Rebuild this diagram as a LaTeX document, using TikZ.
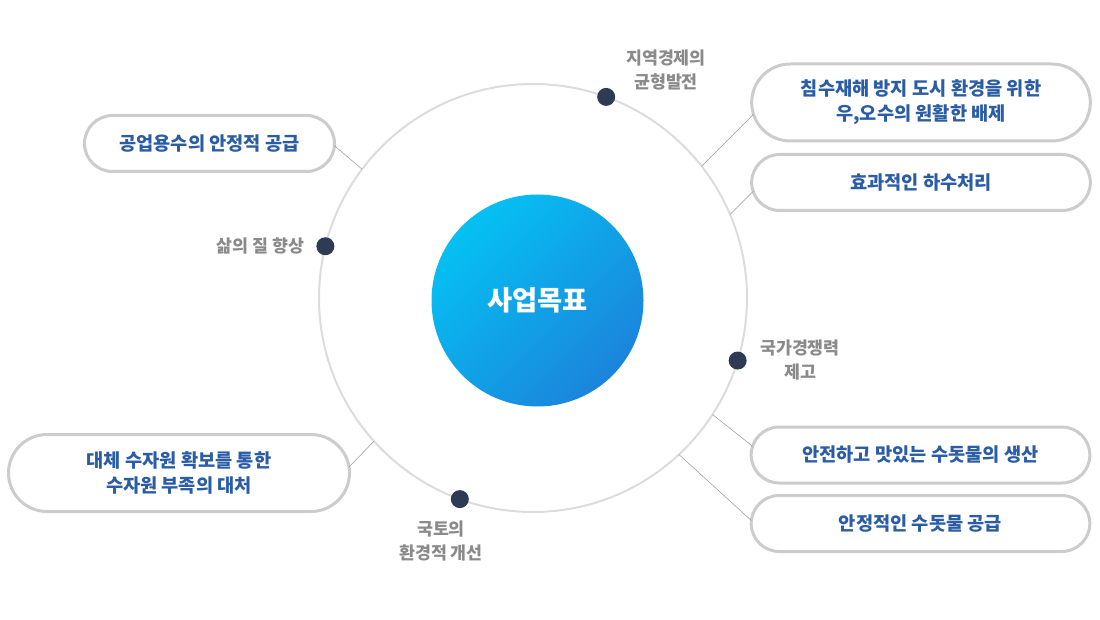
\documentclass[tikz,border=0pt]{standalone}
\usepackage{fontspec}
\setmainfont{Noto Sans CJK KR}
\usetikzlibrary{shapes.misc}

\definecolor{ringgray}{HTML}{DCDCDC}
\definecolor{boxgray}{HTML}{CCCCCC}
\definecolor{linkgray}{HTML}{9A9A9A}
\definecolor{goalblue}{HTML}{2B5DA6}
\definecolor{labelgray}{HTML}{8A8A8A}
\definecolor{spotblue}{HTML}{2E3B55}
\definecolor{corecyan}{HTML}{05C1F3}
\definecolor{coreblue}{HTML}{1B84DB}

\tikzstyle{goal}=[rounded rectangle, draw=boxgray, line width=2.25pt, fill=white,
  minimum width=254pt, minimum height=42pt, inner sep=0pt, outer sep=0pt,
  align=center, text=goalblue, font=\fontsize{14}{19}\selectfont\bfseries]
\tikzstyle{effect}=[align=center, text=labelgray, font=\fontsize{13}{18}\selectfont\bfseries]
\tikzstyle{spot}=[circle, fill=spotblue, minimum size=13.5pt, inner sep=0pt]
\tikzstyle{link}=[draw=linkgray, line width=0.4pt]

\begin{document}
\begin{tikzpicture}[x=0.75pt, y=-0.75pt]
      \useasboundingbox (0,0) rectangle (1100,620);

      % outer ring and centre
      \node[circle, draw=ringgray, line width=1.5pt, minimum size=321pt,
            inner sep=0pt, outer sep=0pt] (ring) at (533,298) {};
      \node[circle, minimum size=159pt, inner sep=0pt, shading=axis,
            top color=corecyan, bottom color=coreblue, shading angle=45,
            text=white, font=\fontsize{20.5}{24}\selectfont\bfseries] (core) at (537.5,300.5) {사업목표};

      % effects on the ring
      \node[spot] (d1) at (ring.70.5) {};
      \node[spot] (d2) at (ring.166) {};
      \node[spot] (d3) at (ring.343.7) {};
      \node[spot] (d4) at (ring.250.6) {};
      \node[effect] (e1) at (666,70) {지역경제의\\균형발전};
      \node[effect, anchor=east] (e2) at (309,246) {삶의 질 향상};
      \node[effect] (e3) at (800,360) {국가경쟁력\\제고};
      \node[effect] (e4) at (441,541) {국토의\\환경적 개선};

      % goals
      \node[goal, minimum height=57.75pt] (g1) at (921,102.5) {침수재해 방지 도시 환경을 위한\\우,오수의 원활한 배제};
      \node[goal] (g2) at (921,182.5) {효과적인 하수처리};
      \node[goal, minimum width=187.5pt] (g3) at (209.5,143.5) {공업용수의 안정적 공급};
      \node[goal, minimum width=255.75pt, minimum height=57.75pt] (g4) at (179,473) {대체 수자원 확보를 통한\\수자원 부족의 대처};
      \node[goal] (g5) at (920.5,455) {안전하고 맛있는 수돗물의 생산};
      \node[goal] (g6) at (920.5,523.5) {안정적인 수돗물 공급};

      \draw[link] (ring.38.2) to (g1.184);
      \draw[link] (ring.23.8) to (g2.183.2);
      \draw[link] (ring.143.2) to (g3.359.3);
      \draw[link] (ring.222.5) to (g4.2);
      \draw[link] (ring.327.4) to (g5.177.6);
      \draw[link] (ring.313.5) to (g6.179.5);
    \end{tikzpicture}
\end{document}
